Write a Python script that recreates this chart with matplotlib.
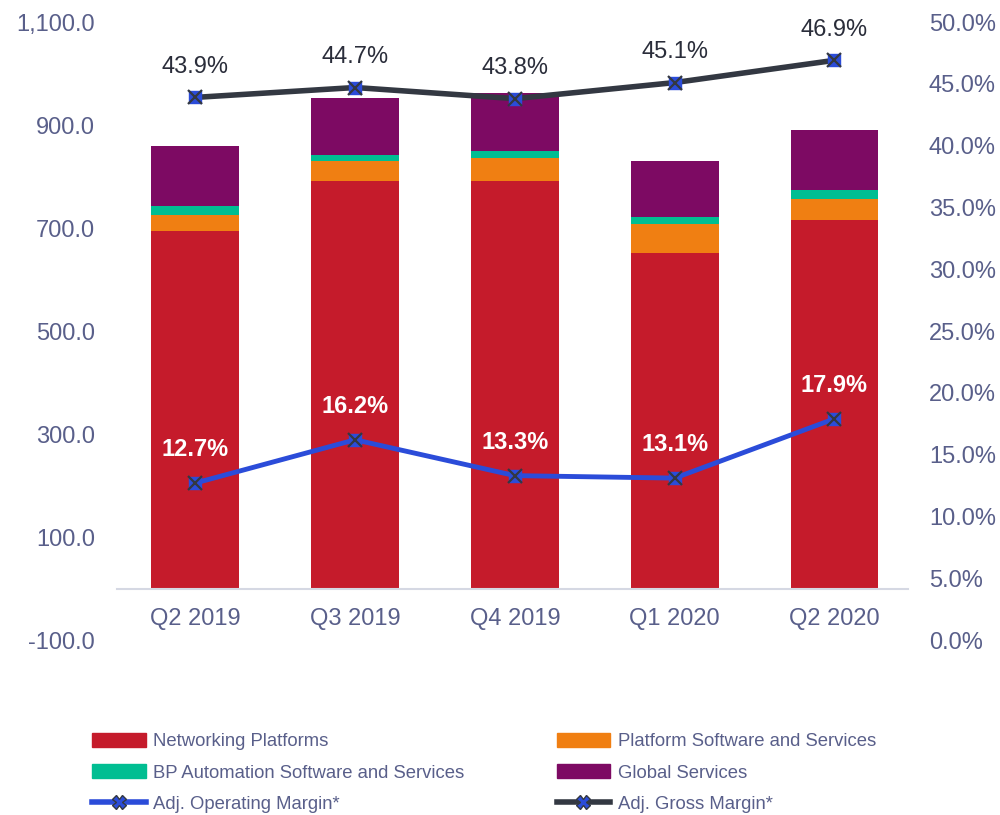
import numpy as np
import matplotlib
matplotlib.use("Agg")
from matplotlib import pyplot as plt
from matplotlib.lines import Line2D
from matplotlib.patches import Patch

plt.rcParams['font.family'] = ['Liberation Sans', 'DejaVu Sans']

quarters = ["Q2 2019", "Q3 2019", "Q4 2019", "Q1 2020", "Q2 2020"]
networking = [695, 792, 792, 652, 715]
platform_sw = [31, 39, 43, 55, 42]
bp_automation = [16, 10, 14, 15, 16]
global_services = [118, 112, 114, 109, 118]
gross_margin = [43.9, 44.7, 43.8, 45.1, 46.9]
op_margin = [12.7, 16.2, 13.3, 13.1, 17.9]

left_ticks = [-100, 100, 300, 500, 700, 900, 1100]
right_ticks = [0, 5, 10, 15, 20, 25, 30, 35, 40, 45, 50]

TXT = "#595F8A"
c_net = "#C51B2B"
c_plat = "#F07F12"
c_bp = "#00BE92"
c_glob = "#7D0A63"
c_gross = "#333842"
c_op = "#2B4CD9"

fig = plt.figure(figsize=(10, 8.15), dpi=100)
ax = fig.add_axes([0.117, 0.2147, 0.791, 0.7583])
x = np.arange(len(quarters))
w = 0.55

bottom = np.zeros(len(quarters))
for vals, col in [(networking, c_net), (platform_sw, c_plat),
                  (bp_automation, c_bp), (global_services, c_glob)]:
    ax.bar(x, vals, w, bottom=bottom, color=col, zorder=2)
    bottom += np.array(vals)

ax.set_ylim(-100, 1100)
ax.set_xlim(-0.49, 4.46)
ax.set_yticks(left_ticks)
ax.set_yticklabels([f"{v:,.1f}" for v in left_ticks])
ax.set_xticks(x)
ax.set_xticklabels(quarters)
for s in ax.spines.values():
    s.set_visible(False)
# category axis sits on the zero line
ax.spines["bottom"].set_visible(True)
ax.spines["bottom"].set_position(("data", 0))
ax.spines["bottom"].set_color("#D5D8E3")
ax.spines["bottom"].set_linewidth(1.5)
ax.tick_params(axis="y", length=0, pad=16, labelsize=17, labelcolor=TXT)
ax.tick_params(axis="x", length=0, pad=14, labelsize=17, labelcolor=TXT)

ax2 = ax.twinx()
ax2.set_ylim(0, 50)
ax2.set_yticks(right_ticks)
ax2.set_yticklabels([f"{v:.1f}%" for v in right_ticks])
for s in ax2.spines.values():
    s.set_visible(False)
ax2.tick_params(axis="y", length=0, pad=15, labelsize=17, labelcolor=TXT)

for vals, col, lw in [(gross_margin, c_gross, 4), (op_margin, c_op, 3.5)]:
    ax2.plot(x, vals, color=col, lw=lw, zorder=3)
    ax2.plot(x, vals, ls="none", marker="s", ms=8.5, mfc=c_op, mec=c_op, zorder=4)
    ax2.plot(x, vals, ls="none", marker="x", ms=9.5, mew=1.6, mec=c_gross, zorder=5)

for xi, v in zip(x, gross_margin):
    ax2.annotate(f"{v:.1f}%", (xi, v), xytext=(0, 22), textcoords="offset points",
                 ha="center", va="center", fontsize=17, color="#2A2D3A")
for xi, v in zip(x, op_margin):
    ax2.annotate(f"{v:.1f}%", (xi, v), xytext=(0, 24), textcoords="offset points",
                 ha="center", va="center", fontsize=17, color="white", fontweight="bold")

handles = [
    Patch(color=c_net, label="Networking Platforms"),
    Patch(color=c_bp, label="BP Automation Software and Services"),
    Line2D([], [], color=c_op, lw=4, marker="X", ms=10, mfc=c_op, mec=c_gross,
           label="Adj. Operating Margin*"),
    Patch(color=c_plat, label="Platform Software and Services"),
    Patch(color=c_glob, label="Global Services"),
    Line2D([], [], color=c_gross, lw=4, marker="X", ms=10, mfc=c_op, mec=c_gross,
           label="Adj. Gross Margin*"),
]
leg = fig.legend(handles=handles, ncol=2, loc="upper left",
                 bbox_to_anchor=(0.092, 1 - 733 / 815), frameon=False,
                 fontsize=13.3, handlelength=2.9, handleheight=0.8, handletextpad=0.4,
                 columnspacing=5.0, labelspacing=0.75, borderpad=0, borderaxespad=0)
for t in leg.get_texts():
    t.set_color(TXT)

fig.savefig("out.png", dpi=100)
